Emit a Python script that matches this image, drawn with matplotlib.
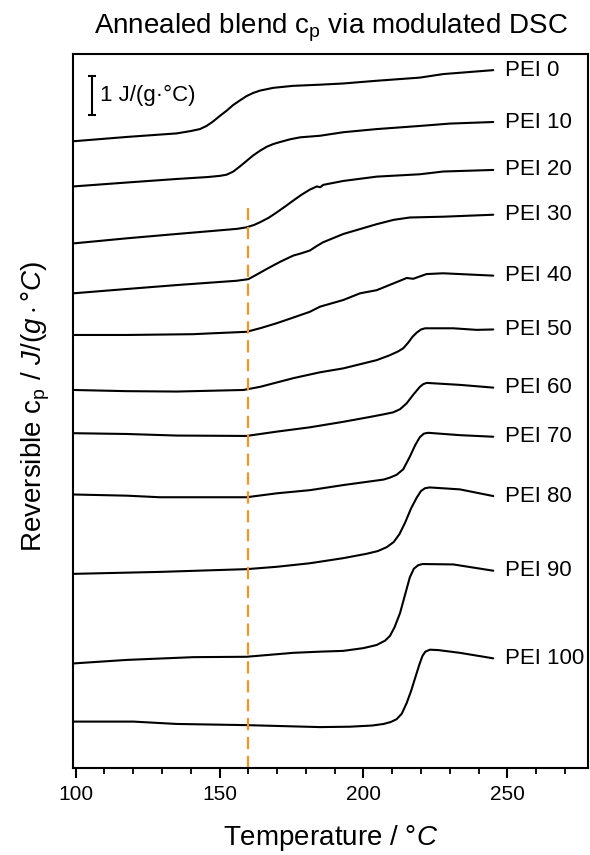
import matplotlib
matplotlib.use("Agg")
import matplotlib.pyplot as plt
from matplotlib.ticker import MultipleLocator

plt.rcParams['font.family'] = ['Liberation Sans', 'DejaVu Sans']
plt.rcParams['mathtext.fontset'] = 'custom'
plt.rcParams['mathtext.rm'] = 'Liberation Sans'
plt.rcParams['mathtext.it'] = 'Liberation Sans:italic'
plt.rcParams['mathtext.bf'] = 'Liberation Sans:bold'

# ---- data (stacked reversible cp, J/(g·°C), offset traces) ----
labels = ["PEI 0", "PEI 10", "PEI 20", "PEI 30", "PEI 40", "PEI 50",
          "PEI 60", "PEI 70", "PEI 80", "PEI 90", "PEI 100"]

t_pei0 = [99.2, 117.8, 135.1, 140.0, 143.2, 145.5, 147.7, 150.2, 152.5, 154.7, 157.1, 159.4, 161.7, 164.1,
          168.7, 175.5, 184.9, 192.9, 204.6, 219.6, 227.7, 245.1]
cp_pei0 = [15.95, 16.06, 16.15, 16.21, 16.26, 16.34, 16.45, 16.60, 16.73, 16.87, 16.99, 17.10, 17.18, 17.24,
           17.31, 17.36, 17.39, 17.42, 17.49, 17.57, 17.66, 17.76]

t_pei10 = [99.2, 117.8, 135.1, 146.0, 150.2, 152.5, 154.8, 157.1, 159.4, 161.7, 164.1, 166.4, 168.7, 171.0,
           174.5, 178.0, 184.9, 193.0, 204.6, 219.6, 230.0, 245.1]
cp_pei10 = [14.80, 14.90, 14.99, 15.04, 15.07, 15.10, 15.18, 15.31, 15.45, 15.59, 15.71, 15.81, 15.88, 15.93,
            16.00, 16.05, 16.09, 16.18, 16.26, 16.34, 16.40, 16.44]

t_pei20 = [99.2, 117.8, 135.1, 156.0, 159.4, 162.0, 164.1, 167.0, 169.9, 172.8, 175.6, 178.5, 181.4, 183.8,
           185.0, 186.0, 193.0, 204.6, 219.6, 227.7, 245.1]
cp_pei20 = [13.35, 13.48, 13.59, 13.72, 13.76, 13.82, 13.89, 14.00, 14.14, 14.29, 14.44, 14.59, 14.72, 14.80,
            14.78, 14.84, 14.94, 15.05, 15.11, 15.18, 15.22]

t_pei30 = [99.2, 117.8, 135.1, 156.0, 160.0, 163.0, 166.4, 171.0, 175.6, 178.5, 181.4, 183.7, 186.0, 193.0,
           204.6, 210.5, 216.1, 227.7, 245.1]
cp_pei30 = [12.08, 12.19, 12.29, 12.40, 12.44, 12.56, 12.70, 12.88, 13.04, 13.10, 13.17, 13.28, 13.38, 13.59,
            13.84, 13.95, 14.01, 14.03, 14.08]

t_pei40 = [99.2, 117.8, 140.9, 146.7, 159.4, 164.5, 169.9, 175.5, 181.4, 184.9, 193.0, 198.8, 204.6, 212.7,
           215.0, 217.3, 221.9, 227.7, 245.1]
cp_pei40 = [11.02, 11.02, 11.04, 11.06, 11.10, 11.20, 11.32, 11.46, 11.61, 11.74, 11.91, 12.08, 12.16, 12.40,
            12.47, 12.45, 12.57, 12.59, 12.53]

t_pei50 = [99.2, 117.8, 135.1, 158.3, 164.1, 175.6, 184.9, 193.0, 204.6, 209.0, 212.0, 213.8, 215.5, 217.0,
           218.5, 220.0, 221.4, 231.2, 239.3, 245.1]
cp_pei50 = [9.62, 9.59, 9.58, 9.62, 9.70, 9.92, 10.07, 10.17, 10.38, 10.50, 10.60, 10.68, 10.82, 10.97,
            11.08, 11.16, 11.19, 11.19, 11.15, 11.16]

t_pei60 = [99.2, 117.8, 135.1, 159.4, 169.9, 181.4, 193.0, 202.0, 207.0, 210.3, 212.7, 215.0, 217.3, 219.6,
           220.8, 222.0, 233.5, 245.1]
cp_pei60 = [8.52, 8.50, 8.46, 8.45, 8.56, 8.67, 8.81, 8.93, 9.00, 9.05, 9.13, 9.28, 9.50, 9.70,
            9.77, 9.80, 9.75, 9.68]

t_pei70 = [99.2, 117.8, 129.3, 159.4, 169.9, 181.4, 193.0, 202.0, 207.0, 209.2, 211.5, 213.8, 216.1, 218.0,
           219.6, 221.0, 222.5, 233.5, 245.1]
cp_pei70 = [6.96, 6.93, 6.89, 6.89, 6.99, 7.07, 7.20, 7.29, 7.34, 7.39, 7.46, 7.60, 7.92, 8.22,
            8.42, 8.51, 8.53, 8.47, 8.43]

t_pei80 = [99.2, 129.3, 159.4, 169.9, 181.4, 193.0, 201.0, 205.0, 208.1, 210.5, 212.5, 214.5, 216.5, 218.5,
           220.0, 221.4, 223.0, 233.5, 245.1]
cp_pei80 = [4.94, 4.99, 5.06, 5.12, 5.21, 5.34, 5.45, 5.52, 5.62, 5.75, 5.95, 6.25, 6.60, 6.88,
            7.05, 7.12, 7.14, 7.09, 6.92]

t_pei90 = [99.2, 117.8, 140.9, 159.4, 175.6, 184.9, 193.0, 200.0, 204.6, 207.5, 209.2, 210.8, 212.7, 214.5,
           216.1, 217.5, 219.0, 220.5, 231.2, 245.1]
cp_pei90 = [2.66, 2.75, 2.82, 2.83, 2.93, 2.96, 2.98, 3.05, 3.13, 3.24, 3.36, 3.58, 3.94, 4.42,
            4.85, 5.07, 5.16, 5.19, 5.18, 5.02]

t_pei100 = [99.2, 120.1, 135.1, 159.4, 184.9, 195.3, 203.0, 207.0, 209.5, 211.5, 213.3, 215.0, 216.5, 218.0,
            219.5, 220.5, 221.5, 223.1, 226.0, 233.5, 245.1]
cp_pei100 = [1.18, 1.18, 1.12, 1.09, 1.04, 1.05, 1.08, 1.12, 1.17, 1.24, 1.38, 1.65, 1.95, 2.30,
             2.65, 2.85, 2.96, 3.01, 3.00, 2.93, 2.79]

temps = [t_pei0, t_pei10, t_pei20, t_pei30, t_pei40, t_pei50,
         t_pei60, t_pei70, t_pei80, t_pei90, t_pei100]
cps = [cp_pei0, cp_pei10, cp_pei20, cp_pei30, cp_pei40, cp_pei50,
       cp_pei60, cp_pei70, cp_pei80, cp_pei90, cp_pei100]

vline_temp = 160.0
vline_top = 14.31
scale_bar_temp = 105.6
scale_bar_center = 17.12
scale_bar_size = 1.0

# ---- figure ----
fig = plt.figure(figsize=(5.9, 8.55), dpi=100)
ax = fig.add_axes([0.1237, 0.1018, 0.9966 - 0.1237, 0.9368 - 0.1018])

for t, c, lab in zip(temps, cps, labels):
    ax.plot(t, c, color='black', lw=1.5, solid_joinstyle='round', solid_capstyle='round')
    ax.text(t[-1] + 4.2, c[-1], lab, fontsize=16, va='center', ha='left')

ax.plot([vline_temp, vline_temp], [0, vline_top], color='#f7931e', lw=1.6,
        dashes=(5.5, 3))

ax.errorbar([scale_bar_temp], [scale_bar_center], yerr=scale_bar_size / 2,
            color='black', capsize=3, elinewidth=1.5, capthick=1.5, fmt='none')
ax.text(scale_bar_temp + 2.9, scale_bar_center, "1 J/(g·°C)", fontsize=16,
        va='center', ha='left')

ax.set_xlim(99.1, 278)
ax.set_ylim(0, 18.17)
ax.set_yticks([])
ax.xaxis.set_major_locator(MultipleLocator(50))
ax.xaxis.set_minor_locator(MultipleLocator(10))
ax.tick_params(axis='x', which='major', length=7, width=1.5, labelsize=15, pad=5)
ax.tick_params(axis='x', which='minor', length=4, width=1.3)
for s in ax.spines.values():
    s.set_linewidth(1.5)

ax.set_xlabel(r"Temperature / °$\it{C}$", fontsize=20, labelpad=14)
ax.set_ylabel(r"Reversible c$_\mathrm{p}$ / $\it{J/(g\cdot°C)}$", fontsize=20)
ax.yaxis.set_label_coords(-0.04, 0.507)
ax.set_title(r"Annealed blend c$_\mathrm{p}$ via modulated DSC", fontsize=20, pad=15)

fig.savefig("out.png", dpi=100)
